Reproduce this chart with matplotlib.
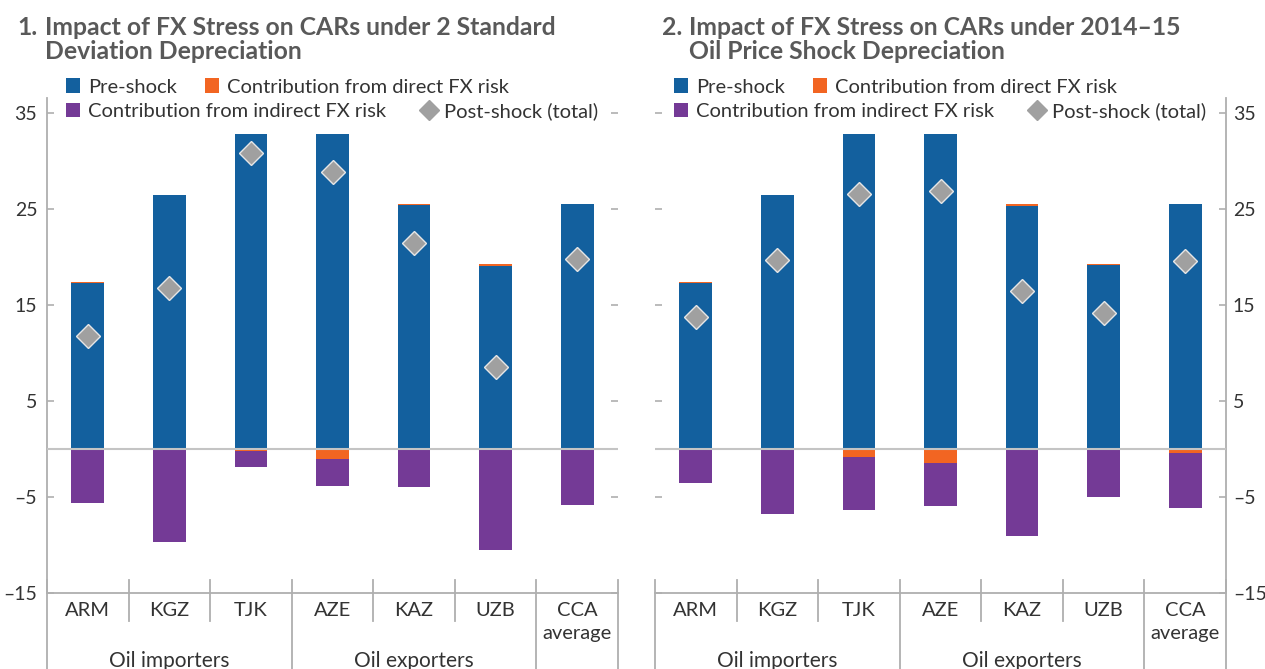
import matplotlib
matplotlib.use('Agg')
import matplotlib.pyplot as plt
from matplotlib.patches import Patch
from matplotlib.lines import Line2D
from matplotlib.ticker import FuncFormatter
import matplotlib.transforms as mtransforms
import numpy as np

plt.rcParams['font.family'] = ['Lato', 'DejaVu Sans']

# ---------------- data ----------------
countries = ['ARM', 'KGZ', 'TJK', 'AZE', 'KAZ', 'UZB', 'CCA\naverage']
groups = ['Oil importers', 'Oil exporters']
group_members = [[0, 1, 2], [3, 4, 5]]

pre1 = [17.3, 26.5, 32.8, 32.8, 25.4, 19.1, 25.6]
direct1 = [0.15, 0.0, -0.2, -1.0, 0.1, 0.2, -0.1]
indirect1 = [-5.6, -9.65, -1.65, -2.8, -3.9, -10.5, -5.7]
post1 = [11.8, 16.8, 30.9, 28.9, 21.5, 8.6, 19.8]

pre2 = [17.3, 26.5, 32.8, 32.8, 25.3, 19.2, 25.6]
direct2 = [0.15, 0.0, -0.85, -1.45, 0.2, 0.1, -0.37]
indirect2 = [-3.5, -6.77, -5.45, -4.45, -9.06, -5.0, -5.8]
post2 = [13.8, 19.7, 26.6, 26.9, 16.5, 14.2, 19.6]

yticks = [-15, -5, 5, 15, 25, 35]
series_labels = ['Pre-shock', 'Contribution from direct FX risk',
                 'Contribution from indirect FX risk', 'Post-shock (total)']
titles = [('1.', 'Impact of FX Stress on CARs under 2 Standard\nDeviation Depreciation'),
          ('2.', 'Impact of FX Stress on CARs under 2014\u201315\nOil Price Shock Depreciation')]

# ---------------- style ----------------
BLUE = '#13609E'
ORANGE = '#F26522'
PURPLE = '#743A96'
DIAMOND = '#A0A0A0'
AXCOL = '#AFAFAF'
TXT = '#333333'
TITLE = '#595959'

W, H = 1265, 669
fig = plt.figure(figsize=(W / 100, H / 100), dpi=100)

def px2fig(x, y):
    return x / W, 1 - y / H

ylo, yhi = -15, 36.6
ax_bottom = (H - 593) / H
ax_height = (593 - 98) / H
ax1 = fig.add_axes([47 / W, ax_bottom, 571 / W, ax_height])
ax2 = fig.add_axes([655 / W, ax_bottom, 571 / W, ax_height])

fmt = FuncFormatter(lambda v, p: ('\u2013%d' % abs(v)) if v < 0 else '%d' % v)


def draw(ax, pre, direct, indirect, post, side):
    x = np.arange(len(countries))
    pre = np.array(pre)
    d = np.array(direct)
    ind = np.array(indirect)
    ax.bar(x, pre, width=0.4, color=BLUE, zorder=2, linewidth=0)
    ax.bar(x, d, width=0.4, bottom=np.where(d > 0, pre, 0), color=ORANGE,
           zorder=2, linewidth=0)
    ax.bar(x, ind, width=0.4, bottom=np.minimum(d, 0), color=PURPLE,
           zorder=2, linewidth=0)
    ax.axhline(0, color='#C4C4C4', lw=1.5, zorder=3)
    ax.plot(x, post, ls='none', marker='D', ms=12, mfc=DIAMOND, mec='#E6E6E6',
            mew=1, zorder=4)

    ax.set_xlim(-0.5, len(countries) - 0.5)
    ax.set_ylim(ylo, yhi)
    ax.set_yticks(yticks)
    ax.yaxis.set_major_formatter(fmt)
    ax.set_xticks([])
    for s in ['top', 'left', 'right']:
        ax.spines[s].set_visible(False)
    ax.spines['bottom'].set_color(AXCOL)
    ax.spines['bottom'].set_linewidth(1.3)
    ax.spines[side].set_visible(True)
    ax.spines[side].set_color(AXCOL)
    ax.spines[side].set_linewidth(1.3)
    ax.tick_params(axis='y', which='both', left=True, right=True,
                   labelleft=(side == 'left'), labelright=(side == 'right'),
                   direction='in', length=5, width=1.2, color=AXCOL,
                   labelsize=14, labelcolor=TXT, pad=7 if side == 'left' else 5)
    ax.patch.set_visible(False)

    trans = mtransforms.blended_transform_factory(ax.transData, ax.transAxes)
    hpx = 593 - 98
    top = 13 / hpx
    short_bot = (593 - 621) / hpx
    long_bot = (593 - 680) / hpx
    n = len(countries)
    long_edges = [-0.5, 2.5, 5.5, n - 0.5]
    for e in np.arange(-0.5, n, 1.0):
        bot = long_bot if e in long_edges else short_bot
        ax.plot([e, e], [top, bot], color=AXCOL, lw=1.3, transform=trans,
                clip_on=False, zorder=1)
    for i, c in enumerate(countries):
        ax.text(i, (593 - 602) / hpx, c, transform=trans, ha='center', va='top',
                fontsize=14.5, color=TXT, linespacing=1.45)
    for g, mem in zip(groups, group_members):
        ax.text(np.mean(mem), (593 - 661) / hpx, g, transform=trans,
                ha='center', va='center', fontsize=15, color=TXT)


draw(ax1, pre1, direct1, indirect1, post1, 'left')
draw(ax2, pre2, direct2, indirect2, post2, 'right')

# titles
for (num, txt), xn, xt in zip(titles, [17, 662], [45, 689]):
    fig.text(*px2fig(xn, 16), num, ha='left', va='top', fontsize=17.8,
             fontweight='bold', color=TITLE)
    fig.text(*px2fig(xt, 16), txt, ha='left', va='top', fontsize=17.8,
             fontweight='bold', color=TITLE, linespacing=1.03)

# legends
sq = dict(linewidth=0)
h_pre = Patch(facecolor=BLUE, **sq)
h_dir = Patch(facecolor=ORANGE, **sq)
h_ind = Patch(facecolor=PURPLE, **sq)
h_post = Line2D([], [], ls='none', marker='D', ms=10, mfc=DIAMOND, mec=DIAMOND)
leg_kw = dict(frameon=False, fontsize=14.5, handlelength=0.7, handleheight=0.7,
              handletextpad=0.4, borderpad=0.0,
              borderaxespad=0.0, labelcolor=TXT, loc='center left',
              bbox_transform=fig.transFigure, ncol=2)
for xh in [66, 674]:
    l1 = fig.legend([h_pre, h_dir], series_labels[:2], columnspacing=1.4,
                    bbox_to_anchor=px2fig(xh, 87), **leg_kw)
    l2 = fig.legend([h_ind, h_post], series_labels[2:], columnspacing=1.75,
                    bbox_to_anchor=px2fig(xh, 111), **leg_kw)

fig.savefig('out.png', dpi=100)
